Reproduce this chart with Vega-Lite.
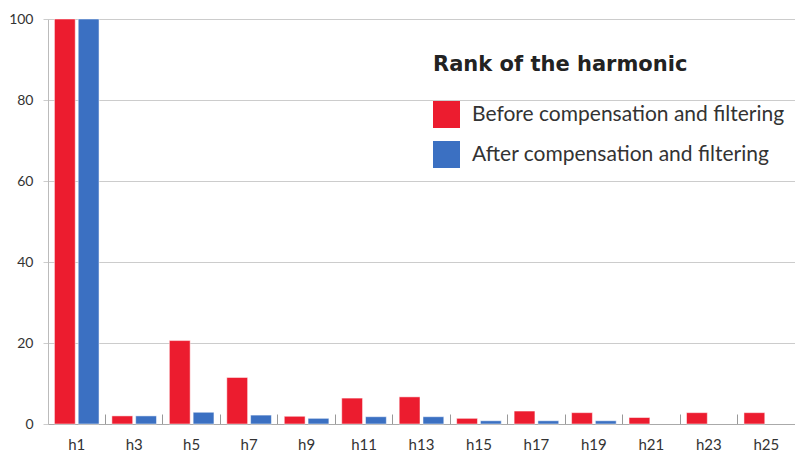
{
  "$schema": "https://vega.github.io/schema/vega-lite/v6.json",
  "width": 747,
  "height": 405,
  "autosize": {"type": "none"},
  "padding": {"left": 48, "top": 19, "right": 0, "bottom": 33},
  "background": "white",
  "config": {
    "view": {"stroke": null},
    "font": "Lato",
    "axis": {"labelFont": "Lato", "titleFont": "Lato"},
    "legend": {"labelFont": "Lato", "titleFont": "Lato"}
  },
  "data": {
    "values": [
      {"harmonic": "h1", "series": "Before compensation and filtering", "value": 100},
      {"harmonic": "h1", "series": "After compensation and filtering", "value": 100},
      {"harmonic": "h3", "series": "Before compensation and filtering", "value": 2},
      {"harmonic": "h3", "series": "After compensation and filtering", "value": 2},
      {"harmonic": "h5", "series": "Before compensation and filtering", "value": 20.6},
      {"harmonic": "h5", "series": "After compensation and filtering", "value": 2.9},
      {"harmonic": "h7", "series": "Before compensation and filtering", "value": 11.5},
      {"harmonic": "h7", "series": "After compensation and filtering", "value": 2.2},
      {"harmonic": "h9", "series": "Before compensation and filtering", "value": 1.9},
      {"harmonic": "h9", "series": "After compensation and filtering", "value": 1.4},
      {"harmonic": "h11", "series": "Before compensation and filtering", "value": 6.4},
      {"harmonic": "h11", "series": "After compensation and filtering", "value": 1.8},
      {"harmonic": "h13", "series": "Before compensation and filtering", "value": 6.7},
      {"harmonic": "h13", "series": "After compensation and filtering", "value": 1.8},
      {"harmonic": "h15", "series": "Before compensation and filtering", "value": 1.4},
      {"harmonic": "h15", "series": "After compensation and filtering", "value": 0.8},
      {"harmonic": "h17", "series": "Before compensation and filtering", "value": 3.2},
      {"harmonic": "h17", "series": "After compensation and filtering", "value": 0.8},
      {"harmonic": "h19", "series": "Before compensation and filtering", "value": 2.8},
      {"harmonic": "h19", "series": "After compensation and filtering", "value": 0.8},
      {"harmonic": "h21", "series": "Before compensation and filtering", "value": 1.6},
      {"harmonic": "h23", "series": "Before compensation and filtering", "value": 2.8},
      {"harmonic": "h25", "series": "Before compensation and filtering", "value": 2.8}
    ]
  },
  "mark": {"type": "bar", "stroke": "#ffffff", "strokeWidth": 1, "strokeOpacity": 0.5},
  "encoding": {
    "x": {
      "field": "harmonic",
      "type": "nominal",
      "sort": ["h1","h3","h5","h7","h9","h11","h13","h15","h17","h19","h21","h23","h25"],
      "scale": {"paddingInner": 0, "paddingOuter": 0},
      "axis": {
        "title": null,
        "labelAngle": 0,
        "labelFontSize": 15,
        "labelColor": "#333333",
        "labelPadding": 23,
        "bandPosition": 0,
        "ticks": true,
        "tickSize": -10,
        "tickWidth": 1,
        "tickColor": "#999999",
        "domainColor": "#aaaaaa",
        "grid": false
      }
    },
    "xOffset": {
      "field": "series",
      "type": "nominal",
      "sort": ["Before compensation and filtering", "After compensation and filtering"],
      "scale": {"domain": ["Before compensation and filtering", "After compensation and filtering"], "paddingInner": 0.125, "paddingOuter": 0.27}
    },
    "y": {
      "field": "value",
      "type": "quantitative",
      "scale": {"domain": [0, 100], "nice": false},
      "axis": {
        "title": null,
        "values": [0, 20, 40, 60, 80, 100],
        "labelFontSize": 14,
        "labelColor": "#333333",
        "labelPadding": 10,
        "tickSize": 5,
        "tickColor": "#cccccc",
        "gridColor": "#cccccc",
        "domainColor": "#bbbbbb"
      }
    },
    "color": {
      "field": "series",
      "type": "nominal",
      "sort": ["Before compensation and filtering", "After compensation and filtering"],
      "scale": {"domain": ["Before compensation and filtering", "After compensation and filtering"], "range": ["#ec1c2f", "#3b70c2"]},
      "legend": {
        "title": "Rank of the harmonic",
        "orient": "none",
        "legendX": 385,
        "legendY": 35,
        "titleFont": "DejaVu Sans",
        "titleFontSize": 21,
        "titleFontWeight": "bold",
        "titleColor": "#222222",
        "titlePadding": 26,
        "titleLimit": 0,
        "labelLimit": 0,
        "labelFontSize": 21,
        "labelColor": "#333333",
        "labelOffset": 12,
        "symbolType": "square",
        "symbolSize": 729,
        "symbolStrokeWidth": 0,
        "rowPadding": 13
      }
    }
  }
}
